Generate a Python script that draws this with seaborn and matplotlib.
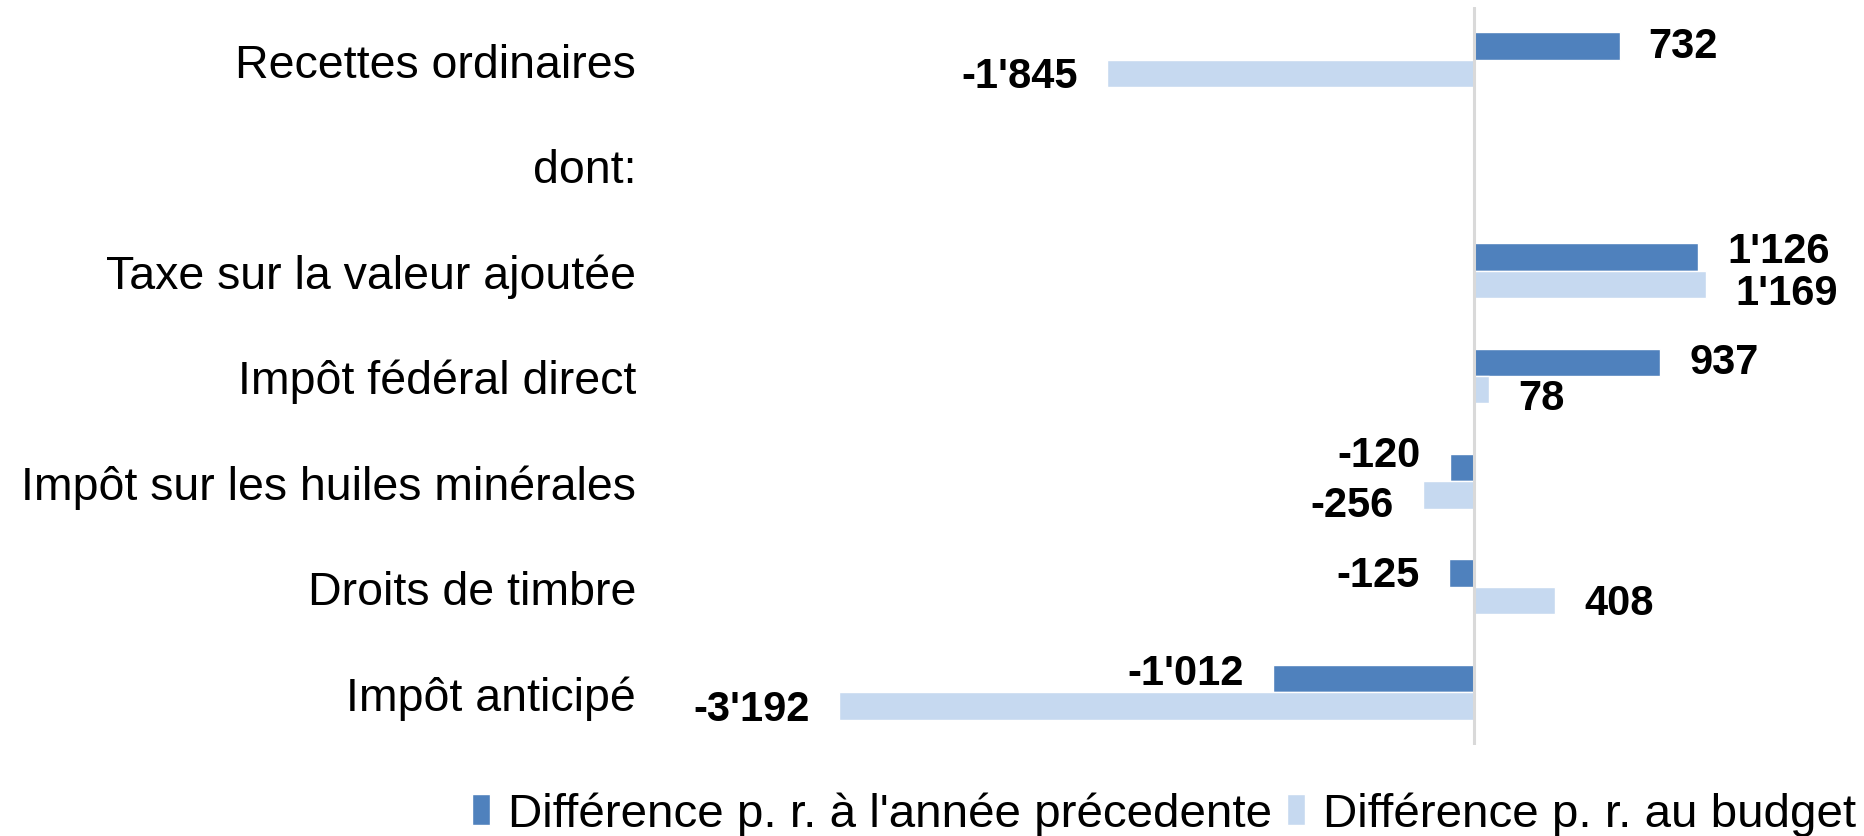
import matplotlib
matplotlib.use("Agg")
import matplotlib.pyplot as plt
import seaborn as sns
import pandas as pd
import numpy as np

categories = ["Recettes ordinaires", "dont:", "Taxe sur la valeur ajoutée",
              "Impôt fédéral direct", "Impôt sur les huiles minérales",
              "Droits de timbre", "Impôt anticipé"]
series_names = ["Différence p. r. à l'année précedente", "Différence p. r. au budget"]
diff_prev = [732, np.nan, 1126, 937, -120, -125, -1012]
diff_budget = [-1845, np.nan, 1169, 78, -256, 408, -3192]
colors = ["#4F81BD", "#C6D9F0"]

# vertical nudges of data labels (points, positive = up), per series per category
label_dy = [
    [0, 0, 4, 0, 9, -1, 4],
    [-2, 0, -6, -6, -7, -2, -2],
]

rows = []
for c, a, b in zip(categories, diff_prev, diff_budget):
    rows.append({"cat": c, "serie": series_names[0], "val": a})
    rows.append({"cat": c, "serie": series_names[1], "val": b})
df = pd.DataFrame(rows)

sns.set_style("white")
plt.rcParams['font.family'] = ['Liberation Sans', 'DejaVu Sans']

fig = plt.figure(figsize=(18.64, 8.37), dpi=100)
ax = fig.add_axes([650/1864, 1 - 746/837, 1214/1864, 738/837])

sns.barplot(data=df.dropna(), y="cat", x="val", hue="serie", order=categories,
            hue_order=series_names, palette=colors, saturation=1, width=0.52,
            orient="h", ax=ax, errorbar=None, legend=True)

ax.set_xlim(-4143, 1961)
ax.axvline(0, color="#D9D9D9", lw=2.2, zorder=5)
for s in ax.spines.values():
    s.set_visible(False)
ax.set_xticks([])
ax.set_xlabel("")
ax.set_ylabel("")
ax.tick_params(axis="y", length=0, pad=10, labelsize=33.5, labelcolor="black")

def fmt(v):
    return f"{v:,.0f}".replace(",", "'")

for si, cont in enumerate(ax.containers):
    for bar in cont:
        w = bar.get_width()
        if np.isnan(w):
            continue
        y = bar.get_y() + bar.get_height() / 2
        ci = int(round(y))
        off = 21 if w >= 0 else -21
        ax.annotate(fmt(w), xy=(w, y), xytext=(off, label_dy[si][ci]),
                    textcoords="offset points",
                    ha="left" if w >= 0 else "right", va="center",
                    fontsize=30, fontweight="bold", color="black")

leg = ax.get_legend()
handles, labels = ax.get_legend_handles_labels()
leg.remove()
fig.legend(handles, labels, loc="center", bbox_to_anchor=(0.6245, 0.026), ncol=2,
           frameon=False, fontsize=34.2, handlelength=0.38, handleheight=0.63,
           handletextpad=0.38, columnspacing=0.3, borderaxespad=0,
           labelcolor="black")

fig.savefig("out.png", dpi=100)
